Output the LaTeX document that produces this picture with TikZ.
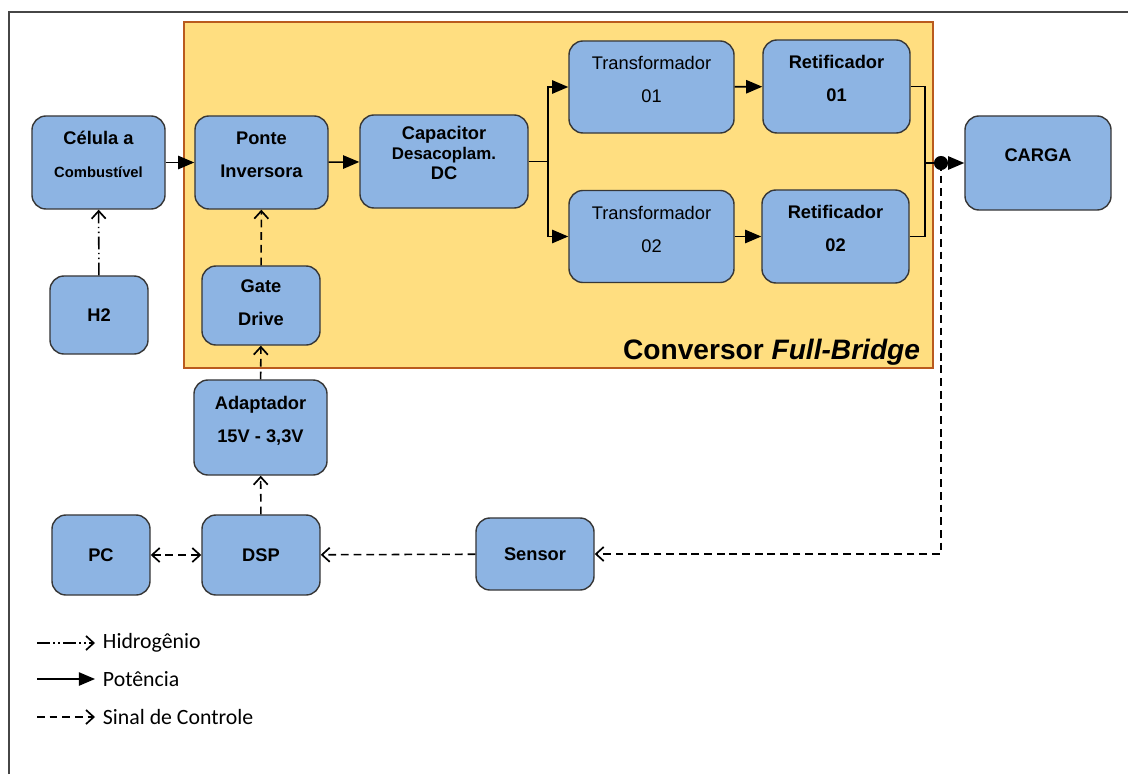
\documentclass[tikz,border=0pt]{standalone}
\usepackage{fontspec}
\setmainfont{Liberation Sans}
\newfontfamily\legfont{Carlito}
\usetikzlibrary{arrows.meta, positioning}

\definecolor{boxblue}{RGB}{141,180,227}
\definecolor{boxedge}{RGB}{55,55,55}
\definecolor{convfill}{RGB}{255,222,128}
\definecolor{convedge}{RGB}{185,90,30}
\definecolor{framegray}{RGB}{70,70,70}

% empty last line, pushes the text a little above the box centre
\newcommand{\raisetxt}[1][-12pt]{\\[#1]\mbox{}}

\begin{document}
\begin{tikzpicture}[
x=0.025cm, y=-0.025cm,
box/.style={draw=boxedge, fill=boxblue, line width=1pt, rounded corners=10pt, align=center,
  font=\fontsize{13}{23.5}\selectfont\bfseries},
power/.style={-{Triangle[length=11.5pt,width=9.5pt]}, line width=1.1pt},
ctrl/.style={-{Straight Barb[length=5.5pt,width=10pt,line width=1.2pt]}, line width=1.1pt, dash pattern=on 5.5pt off 3.5pt},
hydro/.style={-{Straight Barb[length=5.5pt,width=10pt,line width=1.2pt]}, line width=1.1pt,
  dash pattern=on 9pt off 2.5pt on 1pt off 2.5pt on 1pt off 2.5pt}
]
\useasboundingbox (0,0) rectangle (1128,774);

% frame
\draw[framegray, line width=1.2pt] (9,774) -- (9,12) -- (1128,12);

% converter block
\node (conv) [draw=convedge, fill=convfill, line width=1.5pt, minimum width=18.725cm, minimum height=8.65cm] at (558.5,195) {};
\node (titulo) [anchor=base east, font=\fontsize{20}{24}\selectfont\bfseries] at (925,359) {Conversor \textit{Full-Bridge}};

% blocks
\node (cel) [box, minimum width=3.325cm, minimum height=2.325cm] at (98.5,162.5) {C\'elula a\\{\fontsize{10.5}{12}\selectfont Combust\'ivel}\raisetxt};
\node (h2) [box, minimum width=2.45cm, minimum height=1.95cm] at (99,315) {H2};
\node (pon) [box, minimum width=3.325cm, minimum height=2.325cm] at (261.5,162.5) {Ponte\\Inversora\raisetxt};
\node (gat) [box, minimum width=2.95cm, minimum height=1.975cm] at (261,305.5) {Gate\\Drive\raisetxt[-19pt]};
\node (ada) [box, minimum width=3.325cm, minimum height=2.375cm] at (260.5,427.5) {Adaptador\\15V - 3,3V\raisetxt};
\node (dsp) [box, minimum width=2.95cm, minimum height=2cm] at (261,555) {DSP};
\node (pc) [box, minimum width=2.45cm, minimum height=2cm] at (101,555) {PC};
\node (sen) [box, minimum width=2.95cm, minimum height=1.8cm] at (535,554) {Sensor};
\node (cap) [box, minimum width=4.2cm, minimum height=2.325cm, font=\fontsize{13}{14}\selectfont\bfseries] at (444,161.5) {Capacitor\\{\fontsize{12}{14}\selectfont Desacoplam.}\\DC\raisetxt[-2pt]};
\node (tr1) [box, minimum width=4.125cm, minimum height=2.3cm, font=\fontsize{13}{23.5}\selectfont] at (651.5,87) {Transformador\\01\raisetxt[-13pt]};
\node (re1) [box, minimum width=3.675cm, minimum height=2.325cm] at (836.5,86.5) {Retificador\\01\raisetxt};
\node (tr2) [box, minimum width=4.125cm, minimum height=2.3cm, font=\fontsize{13}{23.5}\selectfont] at (651.5,236.5) {Transformador\\02\raisetxt[-13pt]};
\node (re2) [box, minimum width=3.675cm, minimum height=2.325cm] at (835.5,236.5) {Retificador\\02\raisetxt};
\node (car) [box, minimum width=3.65cm, minimum height=2.35cm] at (1038,163) {CARGA\raisetxt};

% power path
\coordinate (split) at (548,161.5);
\coordinate (join) at (925,163);
\coordinate (node) at (941,163);
\draw[power] (cel) -- (pon);
\draw[power] (pon) -- (cap);
\draw[line width=1.1pt] (cap.east) -- (split);
\draw[power] (split) |- (tr1.west);
\draw[power] (split) |- (tr2.west);
\draw[power] (tr1) -- (re1);
\draw[power] (tr2) -- (re2);
\draw[line width=1.1pt] (re1.east) -| (join);
\draw[line width=1.1pt] (re2.east) -| (join);
\draw[power] (join) -- (car.west);
\fill (node) circle (5pt);

% control and hydrogen
\draw[hydro] (h2) -- (cel);
\draw[ctrl] (gat) -- (pon);
\draw[ctrl] (ada) -- (gat);
\draw[ctrl] (dsp) -- (ada);
\draw[ctrl] (sen) -- (dsp);
\draw[ctrl, {Straight Barb[length=5.5pt,width=10pt,line width=1.2pt]}-{Straight Barb[length=5.5pt,width=10pt,line width=1.2pt]}] (pc) -- (dsp);
\draw[ctrl] (node) |- (sen.east);

% legend
\coordinate (lh0) at (37,643);
\coordinate (lh1) at (95,643);
\coordinate (lp0) at (37,679);
\coordinate (lp1) at (95,679);
\coordinate (lc0) at (37,717);
\coordinate (lc1) at (95,717);
\draw[hydro] (lh0) -- (lh1);
\draw[power] (lp0) -- (lp1);
\draw[ctrl] (lc0) -- (lc1);
\node (lhtxt) [anchor=west, font=\legfont\fontsize{15.5}{18}\selectfont] at (98,643) {Hidrog\^enio};
\node (lptxt) [anchor=west, font=\legfont\fontsize{15.5}{18}\selectfont] at (98,679) {Pot\^encia};
\node (lctxt) [anchor=west, font=\legfont\fontsize{15.5}{18}\selectfont] at (98,717) {Sinal de Controle};

\end{tikzpicture}
\end{document}
